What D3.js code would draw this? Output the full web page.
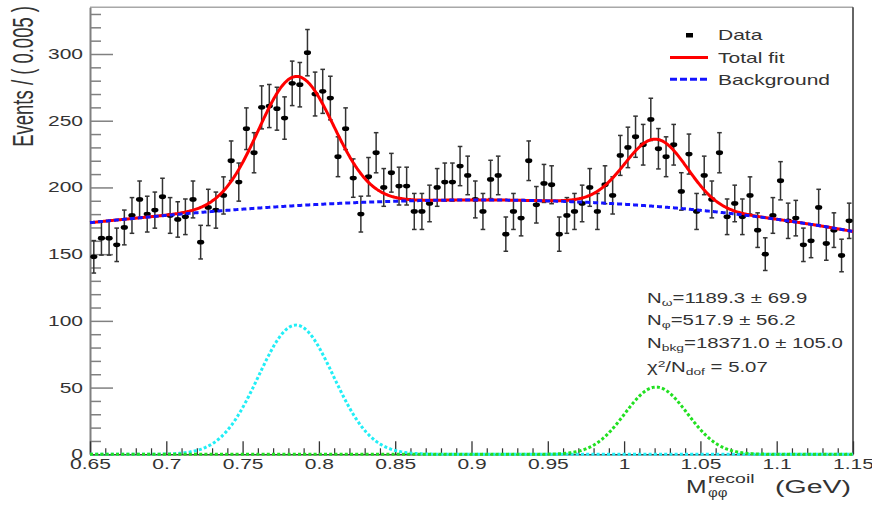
<!DOCTYPE html>
<html>
<head>
<meta charset="utf-8">
<script src="https://cdn.jsdelivr.net/npm/d3@7"></script>
<style>
  html, body { margin: 0; padding: 0; background: #fff; }
  svg { display: block; font-family: "Liberation Sans", Arial, Helvetica, sans-serif; }
</style>
</head>
<body>
<svg id="chart" width="872" height="506"></svg>
<script>
// Recoil-mass histogram: 100 bins of 0.005 GeV between 0.65 and 1.15 GeV
const binLow = 0.65;
const binWidth = 0.005;
const counts = [
  148, 162, 162, 157, 170, 179, 191, 180, 183, 193,
  179, 176, 178, 191, 159, 185, 183, 194, 220, 204,
  244, 226, 260, 261, 259, 252, 278, 277, 301, 270,
  272, 267, 223, 244, 207, 180, 208, 226, 200, 211,
  201, 201, 182, 182, 188, 200, 204, 204, 216, 209,
  191, 182, 206, 209, 165, 182, 177, 220, 187, 203,
  202, 165, 179, 182, 188, 200, 182, 202, 194, 224,
  230, 238, 232, 251, 229, 223, 232, 197, 225, 182,
  209, 191, 226, 178, 188, 178, 194, 168, 150, 179,
  205, 175, 177, 157, 160, 185, 158, 168, 149, 175
];

// Axis ticks
const xTickValues = [0.65, 0.7, 0.75, 0.8, 0.85, 0.9, 0.95, 1.0, 1.05, 1.1, 1.15];
const xTickLabels = ["0.65", "0.7", "0.75", "0.8", "0.85", "0.9", "0.95", "1", "1.05", "1.1", "1.15"];
const xMinorValues = d3.range(66, 115).filter(v => v % 5 !== 0).map(v => v / 100);
const yTickValues = [0, 50, 100, 150, 200, 250, 300];
const yTickLabels = ["0", "50", "100", "150", "200", "250", "300"];
const yMinorValues = [10, 20, 30, 40, 60, 70, 80, 90, 110, 120, 130, 140, 160, 170, 180, 190,
                      210, 220, 230, 240, 260, 270, 280, 290, 310, 320, 330];

// Fit results: signal yield, Gaussian mean and width (GeV)
const omegaFit = [1189.3, 0.785, 0.0245];
const phiFit = [517.9, 1.021, 0.0205];
// Background shape: cubic in (m - 0.9), events per bin
const bkgPoly = [190.6, 3.06, -325, -260];
const bkgCentre = 0.9;

// Fit summary text
const fitSummary = [
  ["N", "ω", "=1189.3 ± 69.9"],
  ["N", "φ", "=517.9 ± 56.2"],
  ["N", "bkg", "=18371.0 ± 105.0"]
];
const chiLabel = ["χ", "2", "/N", "dof", " = 5.07"];

const legendLabels = ["Data", "Total fit", "Background"];

// ---- layout ----
const SX = 1.5;               // horizontal stretch applied to text
const plotL = 90, plotR = 853, plotT = 7.3, plotB = 454.3;
const svg = d3.select("#chart");
const x = d3.scaleLinear().domain([0.65, 1.15]).range([plotL, plotR]);
const y = d3.scaleLinear().domain([0, 335]).range([plotB, plotT]);

// ---- model curves ----
function gauss(p) {
  const amp = p[0] * binWidth / (p[2] * Math.sqrt(2 * Math.PI));
  return m => amp * Math.exp(-0.5 * Math.pow((m - p[1]) / p[2], 2));
}
function bkg(m) {
  const d = m - bkgCentre;
  return bkgPoly[0] + bkgPoly[1] * d + bkgPoly[2] * d * d + bkgPoly[3] * d * d * d;
}
const gOmega = gauss(omegaFit);
const gPhi = gauss(phiFit);
const total = m => bkg(m) + gOmega(m) + gPhi(m);
const grid = d3.range(0, 1001).map(i => 0.65 + i * 0.0005);
const line = f => d3.line().x(m => x(m)).y(m => y(f(m)))(grid);

// ---- frame ----
svg.append("line").attr("x1", plotL).attr("x2", plotR).attr("y1", plotT).attr("y2", plotT)
  .attr("stroke", "#a8a8a8").attr("stroke-width", 1.5);
svg.append("line").attr("x1", plotR).attr("x2", plotR).attr("y1", plotT).attr("y2", plotB)
  .attr("stroke", "#333").attr("stroke-width", 1.5);

// ---- y axis ----
const yAxisG = svg.append("g").attr("transform", `translate(${plotL},0)`)
  .call(d3.axisLeft(y).tickValues(yTickValues).tickFormat((d, i) => yTickLabels[i])
    .tickSizeInner(-23).tickSizeOuter(0).tickPadding(7 / SX));
yAxisG.select(".domain").attr("stroke", "#808080").attr("stroke-width", 2);
yAxisG.selectAll(".tick line").attr("stroke", "#808080").attr("stroke-width", 1.5);
yAxisG.selectAll(".tick text").attr("transform", `scale(${SX},1)`)
  .attr("font-size", 14).attr("fill", "#333");
const yMinorG = svg.append("g").attr("transform", `translate(${plotL},0)`)
  .call(d3.axisLeft(y).tickValues(yMinorValues).tickFormat("").tickSizeInner(-11).tickSizeOuter(0));
yMinorG.select(".domain").remove();
yMinorG.selectAll(".tick line").attr("stroke", "#808080").attr("stroke-width", 1.5);

// ---- x axis ----
const xAxisG = svg.append("g").attr("transform", `translate(0,${plotB})`)
  .call(d3.axisBottom(x).tickValues(xTickValues).tickFormat((d, i) => xTickLabels[i])
    .tickSizeInner(-13).tickSizeOuter(0).tickPadding(5));
xAxisG.select(".domain").attr("stroke", "#444").attr("stroke-width", 1.5);
xAxisG.selectAll(".tick line").attr("stroke", "#333").attr("stroke-width", 1.3);
xAxisG.selectAll(".tick text").attr("transform", `scale(${SX},1)`)
  .attr("font-size", 14).attr("fill", "#333");
const xMinorG = svg.append("g").attr("transform", `translate(0,${plotB})`)
  .call(d3.axisBottom(x).tickValues(xMinorValues).tickFormat("").tickSizeInner(-6).tickSizeOuter(0));
xMinorG.select(".domain").remove();
xMinorG.selectAll(".tick line").attr("stroke", "#333").attr("stroke-width", 1.2);

// ---- data points with Poisson error bars ----
const points = counts.map((n, i) => ({ m: binLow + (i + 0.5) * binWidth, n: n, e: Math.sqrt(n) }));
const dataG = svg.append("g");
const errG = dataG.selectAll("g.err").data(points).join("g").attr("class", "err")
  .attr("stroke", "#333").attr("stroke-width", 1.5);
errG.append("line").attr("x1", d => x(d.m)).attr("x2", d => x(d.m))
  .attr("y1", d => y(d.n + d.e)).attr("y2", d => y(d.n - d.e));
errG.append("line").attr("x1", d => x(d.m) - 2.3).attr("x2", d => x(d.m) + 2.3)
  .attr("y1", d => y(d.n + d.e)).attr("y2", d => y(d.n + d.e));
errG.append("line").attr("x1", d => x(d.m) - 2.3).attr("x2", d => x(d.m) + 2.3)
  .attr("y1", d => y(d.n - d.e)).attr("y2", d => y(d.n - d.e));
dataG.selectAll("ellipse").data(points).join("ellipse")
  .attr("cx", d => x(d.m)).attr("cy", d => y(d.n)).attr("rx", 3.6).attr("ry", 2.4).attr("fill", "#000");

// ---- fit curves ----
svg.append("path").attr("d", line(total)).attr("fill", "none")
  .attr("stroke", "#ff0000").attr("stroke-width", 3);
svg.append("path").attr("d", line(bkg)).attr("fill", "none")
  .attr("stroke", "#1414ff").attr("stroke-width", 3).attr("stroke-dasharray", "5,3");
svg.append("path").attr("d", line(gOmega)).attr("fill", "none")
  .attr("stroke", "#22eef6").attr("stroke-width", 3).attr("stroke-dasharray", "3,2.2");
svg.append("path").attr("d", line(gPhi)).attr("fill", "none")
  .attr("stroke", "#22e022").attr("stroke-width", 3).attr("stroke-dasharray", "3,2.2");

// ---- legend ----
const leg = svg.append("g");
leg.append("rect").attr("x", 686).attr("y", 33).attr("width", 7).attr("height", 4.5).attr("fill", "#000");
leg.append("line").attr("x1", 670).attr("x2", 708).attr("y1", 57.5).attr("y2", 57.5)
  .attr("stroke", "#ff0000").attr("stroke-width", 3);
leg.append("line").attr("x1", 670).attr("x2", 708).attr("y1", 79.3).attr("y2", 79.3)
  .attr("stroke", "#1414ff").attr("stroke-width", 3).attr("stroke-dasharray", "7,3");
const legY = [40, 63.3, 84.5];
leg.selectAll("text").data(legendLabels).join("text")
  .attr("transform", (d, i) => `translate(718,${legY[i]}) scale(${SX},1)`)
  .attr("font-size", 14).attr("fill", "#333").text(d => d);

// ---- fit summary ----
const rowY = [302.5, 325, 348, 372];
fitSummary.forEach((r, i) => {
  const t = svg.append("text").attr("transform", `translate(647,${rowY[i]}) scale(${SX * 0.97},1)`)
    .attr("font-size", 14).attr("fill", "#333");
  t.append("tspan").text(r[0]);
  t.append("tspan").attr("dy", 3).attr("font-size", 9.5).text(r[1]);
  t.append("tspan").attr("dy", -3).text(r[2]);
});
const chi = svg.append("text").attr("transform", `translate(647,${rowY[3]}) scale(${SX * 0.97},1)`)
  .attr("font-size", 14).attr("fill", "#333");
chi.append("tspan").text(chiLabel[0]);
chi.append("tspan").attr("dy", -5).attr("font-size", 9.5).text(chiLabel[1]);
chi.append("tspan").attr("dy", 5).text(chiLabel[2]);
chi.append("tspan").attr("dy", 3).attr("font-size", 9.5).text(chiLabel[3]);
chi.append("tspan").attr("dy", -3).text(chiLabel[4]);

// ---- axis titles ----
svg.append("text").attr("transform", `translate(33,6) rotate(-90) scale(1,1.55)`)
  .attr("text-anchor", "end").attr("font-size", 18.5).attr("fill", "#333")
  .text("Events / ( 0.005 )");
svg.append("text").attr("transform", `translate(686,493) scale(1.3,1)`)
  .attr("font-size", 19).attr("fill", "#333").text("M");
svg.append("text").attr("transform", `translate(708,483) scale(${SX},1)`)
  .attr("font-size", 13).attr("fill", "#333").text("recoil");
svg.append("text").attr("transform", `translate(708,496.5) scale(1.25,1)`)
  .attr("font-size", 12).attr("fill", "#333").text("φφ");
svg.append("text").attr("transform", `translate(775,493) scale(${SX},1)`)
  .attr("font-size", 19).attr("fill", "#333").text("(GeV)");
</script>
</body>
</html>
